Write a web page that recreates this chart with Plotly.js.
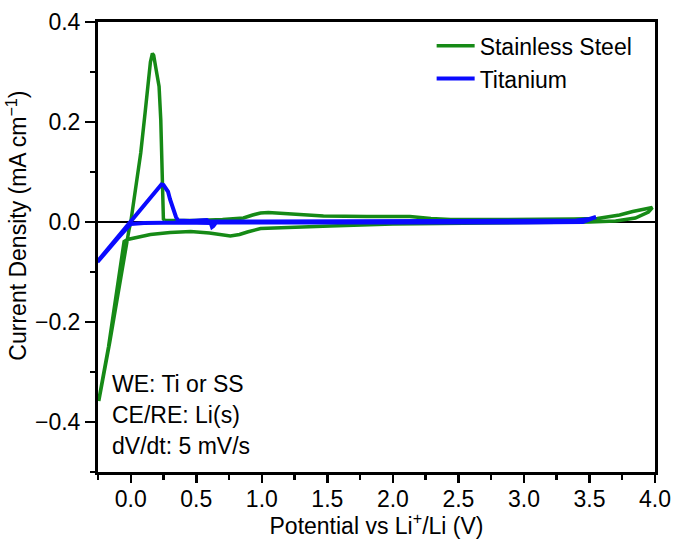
<!DOCTYPE html>
<html>
<head>
<meta charset="utf-8">
<script src="https://cdn.plot.ly/plotly-3.0.1.min.js"></script>
<style>html,body{margin:0;padding:0;background:#fff;}#chart{width:675px;height:539px;}</style>
</head>
<body>
<div id="chart"></div>
<script>
// Series names
const seriesNames = ["Stainless Steel", "Titanium"];

// Stainless Steel CV loop (potential V vs Li+/Li, current density mA cm^-1)
const ssV = [0.26, 0.3, 0.5, 0.7, 0.79, 0.86, 0.93, 0.99, 1.05, 1.17, 1.3, 1.47, 1.8, 2.13, 2.29, 2.44, 2.8, 3.0, 3.38, 3.56, 3.65, 3.73, 3.83, 3.9, 3.98,
             3.95, 3.85, 3.7, 3.5, 3.0, 2.44, 2.0, 1.52, 1.2, 0.99, 0.89, 0.83, 0.76, 0.7, 0.6, 0.457, 0.3, 0.15, 0.076, 0.0, -0.025, -0.051, -0.097, -0.17, -0.244,
             -0.244, -0.16, -0.085, -0.035, -0.013, 0.0, 0.04, 0.076, 0.11, 0.127, 0.15, 0.165, 0.175, 0.19, 0.216, 0.229, 0.236, 0.241, 0.249, 0.26];
const ssJ = [0.003, 0.003, 0.003, 0.005, 0.007, 0.008, 0.014, 0.018, 0.019, 0.017, 0.014, 0.012, 0.011, 0.011, 0.007, 0.005, 0.005, 0.005, 0.006, 0.007, 0.010, 0.014, 0.021, 0.025, 0.029,
             0.020, 0.008, 0.002, 0.0, -0.001, -0.002, -0.004, -0.008, -0.010, -0.013, -0.020, -0.025, -0.028, -0.026, -0.022, -0.019, -0.021, -0.025, -0.029, -0.032, -0.035, -0.039, -0.12, -0.25, -0.356,
             -0.358, -0.24, -0.12, -0.048, -0.015, 0.0, 0.07, 0.138, 0.22, 0.27, 0.32, 0.337, 0.333, 0.31, 0.271, 0.204, 0.137, 0.071, 0.006, 0.003];

// Titanium CV loop
const tiV = [-0.254, 0.0, 0.234, 0.25, 0.27, 0.284, 0.3, 0.33, 0.345, 0.36, 0.45, 0.58, 0.6, 1.0, 2.0, 3.0, 3.4, 3.5, 3.55,
             3.5, 3.45, 3.0, 2.0, 1.0, 0.65, 0.63, 0.62, 0.61, 0.4, 0.1, 0.0, -0.1, -0.254];
const tiJ = [-0.079, 0.0, 0.075, 0.074, 0.068, 0.061, 0.045, 0.017, 0.010, 0.003, 0.002, 0.004, 0.001, 0.001, 0.001, 0.002, 0.003, 0.006, 0.010,
             0.004, 0.0, -0.001, -0.001, -0.001, -0.001, -0.008, -0.010, -0.002, -0.001, -0.002, -0.004, -0.033, -0.080];

// Text
const xTitle = "Potential vs Li<sup>+</sup>/Li (V)";
const yTitle = "Current Density (mA cm<sup>−1</sup>)";
const noteLines = ["WE: Ti or SS", "CE/RE: Li(s)", "dV/dt: 5 mV/s"];
const notePaperY = [0.196, 0.127, 0.058];

const FONT = "Liberation Sans, Arial, Helvetica, sans-serif";
const FS = 23;

const traces = [
  {x: ssV, y: ssJ, type: "scatter", mode: "lines", name: seriesNames[0],
   line: {color: "#168a16", width: 3.5}},
  {x: tiV, y: tiJ, type: "scatter", mode: "lines", name: seriesNames[1],
   line: {color: "#0a0aff", width: 4}}
];

const axisCommon = {
  showline: true, linecolor: "#000", linewidth: 3, mirror: true,
  ticks: "outside", tickcolor: "#000", tickwidth: 2.5,
  showgrid: false, tickfont: {family: FONT, size: FS, color: "#000"},
  tickformat: ".1f"
};

const layout = {
  width: 675, height: 539,
  margin: {l: 98, r: 20, t: 22, b: 67},
  paper_bgcolor: "#fff", plot_bgcolor: "#fff",
  font: {family: FONT, color: "#000"},
  xaxis: Object.assign({}, axisCommon, {
    range: [-0.25, 4.0], tick0: 0, dtick: 0.5, ticklen: 8, zeroline: false,
    ticklabelstandoff: -4,
    minor: {dtick: 0.25, tick0: 0, ticks: "outside", ticklen: 5, tickwidth: 2.5, tickcolor: "#000", showgrid: false},
    title: {text: xTitle, font: {family: FONT, size: FS, color: "#000"}, standoff: 6}
  }),
  yaxis: Object.assign({}, axisCommon, {
    range: [-0.5, 0.4], tick0: 0, dtick: 0.2, ticklen: 10,
    zeroline: true, zerolinecolor: "#000", zerolinewidth: 2,
    minor: {dtick: 0.1, tick0: 0, ticks: "outside", ticklen: 5, tickwidth: 2.5, tickcolor: "#000", showgrid: false}
  }),
  showlegend: true,
  legend: {x: 0.599, y: 0.995, xanchor: "left", yanchor: "top", bgcolor: "rgba(0,0,0,0)",
           font: {family: FONT, size: FS, color: "#000"}, itemwidth: 38, tracegroupgap: 0},
  annotations: noteLines.map((t, i) => ({
    text: t, xref: "paper", yref: "paper", x: 0.022, y: notePaperY[i],
    xanchor: "left", yanchor: "middle", showarrow: false,
    font: {family: FONT, size: FS, color: "#000"}
  })).concat([{
    text: yTitle, xref: "paper", yref: "paper", x: -0.145, y: 0.548,
    xanchor: "center", yanchor: "middle", textangle: -90, showarrow: false,
    font: {family: FONT, size: FS, color: "#000"}
  }])
};

Plotly.newPlot("chart", traces, layout, {staticPlot: true, displayModeBar: false});
</script>
</body>
</html>
